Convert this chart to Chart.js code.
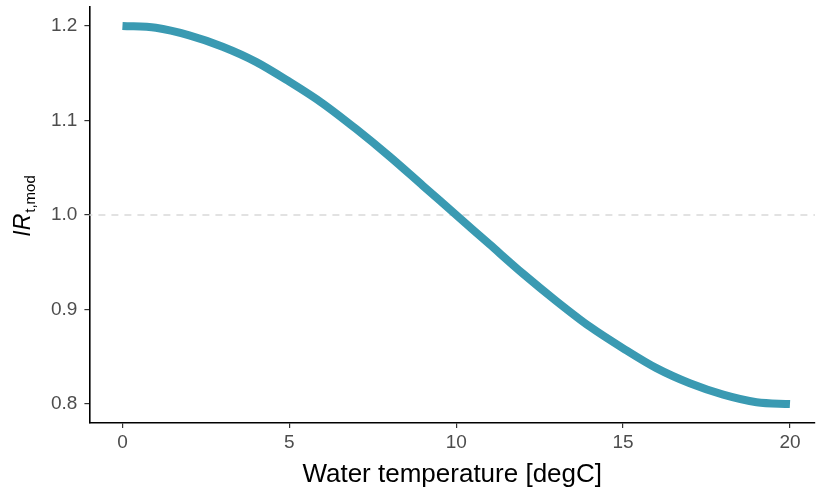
<!DOCTYPE html>
<html lang="en">
<head>
<meta charset="UTF-8">
<title>IR t,mod vs water temperature</title>
<style>
  html, body { margin: 0; padding: 0; background: #fff; }
  #wrap { width: 817px; height: 492px; }
</style>
</head>
<body>
<div id="wrap"><canvas id="chart"></canvas></div>
<script src="https://cdn.jsdelivr.net/npm/chart.js"></script>
<script>
// values
const temps = [0, 1, 2, 3, 4, 5, 6, 7, 8, 9, 10, 11, 12, 13, 14, 15, 16, 17, 18, 19, 20];
const irValues = [1.200, 1.198, 1.190, 1.178, 1.162, 1.141, 1.118, 1.091, 1.062, 1.031, 1.000,
                  0.969, 0.938, 0.909, 0.882, 0.859, 0.838, 0.822, 0.810, 0.802, 0.800];
const refLevel = 1.0;
const xTicks = [0, 5, 10, 15, 20];
const yTicks = [0.8, 0.9, 1.0, 1.1, 1.2];

const font = 'Liberation Sans, Arial, sans-serif';

// y title "IR" (italic) with subscript "t,mod"
const yTitlePlugin = {
  id: 'yTitle',
  afterDraw(chart) {
    const ctx = chart.ctx;
    const area = chart.chartArea;
    ctx.save();
    ctx.translate(30, (area.top + area.bottom) / 2 - 9);
    ctx.rotate(-Math.PI / 2);
    ctx.fillStyle = '#000';
    ctx.textBaseline = 'alphabetic';
    ctx.font = 'italic 23px ' + font;
    const w1 = ctx.measureText('IR').width;
    ctx.font = '15px ' + font;
    const w2 = ctx.measureText('t,mod').width;
    const start = -(w1 + w2 + 1) / 2;
    ctx.font = 'italic 23px ' + font;
    ctx.textAlign = 'left';
    ctx.fillText('IR', start, 0);
    ctx.font = '15px ' + font;
    ctx.fillText('t,mod', start + w1 + 1, 5);
    ctx.restore();
  }
};

const data = temps.map((t, i) => ({ x: t, y: irValues[i] }));

new Chart(document.getElementById('chart'), {
  type: 'line',
  data: {
    datasets: [
      {
        data: [{ x: -1.5, y: refLevel }, { x: 21.5, y: refLevel }],
        borderColor: '#d9d9d9',
        borderWidth: 1.6,
        borderDash: [7, 6],
        pointRadius: 0,
        order: 2
      },
      {
        data: data,
        borderColor: '#3a9ab2',
        borderWidth: 8,
        borderCapStyle: 'butt',
        cubicInterpolationMode: 'monotone',
        pointRadius: 0,
        order: 1
      }
    ]
  },
  plugins: [yTitlePlugin],
  options: {
    responsive: true,
    maintainAspectRatio: false,
    animation: false,
    layout: { padding: { left: 44, right: 2, top: 7, bottom: 2 } },
    plugins: { legend: { display: false }, tooltip: { enabled: false } },
    scales: {
      x: {
        type: 'linear',
        min: -0.99,
        max: 20.75,
        afterBuildTicks: s => { s.ticks = xTicks.map(v => ({ value: v })); },
        border: { display: true, color: '#000', width: 1.6 },
        grid: { drawOnChartArea: false, drawTicks: true, tickLength: 5, color: '#333', lineWidth: 1.2 },
        ticks: { color: '#4d4d4d', font: { family: font, size: 19 }, padding: 3, maxRotation: 0 },
        title: { display: true, text: 'Water temperature [degC]', color: '#000', font: { family: font, size: 26 }, padding: { top: 2, bottom: 0 } }
      },
      y: {
        min: 0.78,
        max: 1.22,
        afterBuildTicks: s => { s.ticks = yTicks.map(v => ({ value: v })); },
        afterFit: s => { s.paddingTop = 0; s.paddingBottom = 0; },
        border: { display: true, color: '#000', width: 1.6 },
        grid: { drawOnChartArea: false, drawTicks: true, tickLength: 5, color: '#333', lineWidth: 1.2 },
        ticks: { color: '#4d4d4d', font: { family: font, size: 19 }, padding: 7, callback: v => v.toFixed(1) }
      }
    }
  }
});
</script>
</body>
</html>
